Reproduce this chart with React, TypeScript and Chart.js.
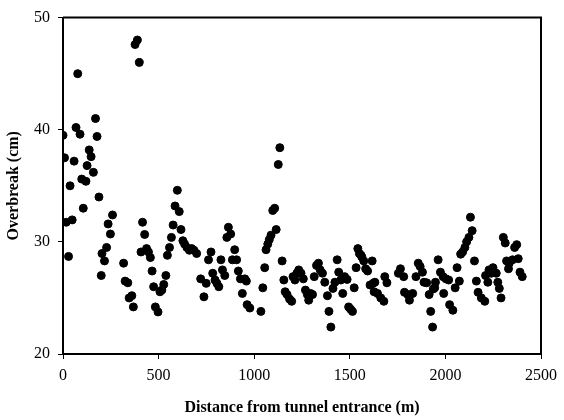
import React, { useEffect, useRef } from "react";
import { Chart, registerables } from "chart.js";

Chart.register(...registerables);

const distances: number[] = [
  0, 8, 17, 29, 37, 48, 58, 68, 77, 89, 98, 106, 120, 126, 137, 147, 159, 170, 178, 188,
  200, 204, 217, 228, 236, 248, 259, 317, 325, 339, 346, 360, 368, 377, 389, 399,
  408, 416, 427, 437, 447, 457, 466, 474, 483, 497, 507, 517, 527, 538, 546, 557, 567, 576, 586, 598,
  608, 617, 627, 636, 648, 661, 673, 685, 699, 720, 737, 749, 761, 774, 783, 795, 805, 815, 826, 834,
  846, 857, 865, 877, 886, 898, 908, 917, 928, 938, 951, 959, 963, 977, 1035, 1045, 1055, 1062, 1071,
  1079, 1088, 1097, 1107, 1115, 1126, 1134, 1146, 1155, 1162, 1172, 1185, 1196, 1203, 1213, 1223, 1233,
  1245, 1257, 1268, 1278, 1285, 1295, 1305, 1314, 1326, 1336, 1345, 1357, 1369, 1383, 1391, 1401, 1412,
  1422, 1434, 1442, 1453, 1463, 1473, 1486, 1494, 1504, 1514, 1523, 1533, 1542, 1550, 1559, 1563, 1573,
  1583, 1593, 1606, 1617, 1622, 1627, 1631, 1645, 1662, 1678, 1683, 1694, 1754, 1765, 1782, 1786, 1803,
  1812, 1829, 1846, 1858, 1868, 1880, 1888, 1902, 1915, 1923, 1933, 1937, 1944, 1948, 1962, 1974, 1988,
  1991, 2003, 2017, 2022, 2039, 2051, 2061, 2073, 2080, 2090, 2102, 2111, 2123, 2131, 2140, 2152, 2162,
  2171, 2188, 2206, 2210, 2222, 2228, 2240, 2249, 2266, 2274, 2282, 2291, 2303, 2313, 2320, 2330, 2334,
  2351, 2362, 2373, 2381, 2390, 2402,
];

const overbreak: number[] = [
  39.5, 37.5, 31.75, 28.7, 35.0, 31.96, 37.2, 40.2, 45.0, 39.6, 35.6, 33.0, 35.4, 36.8, 38.2, 37.6, 36.2, 41.0, 39.4, 34.0,
  27.0, 28.96, 28.3, 29.5, 31.6, 30.7, 32.4, 28.1, 26.5, 26.35, 25.0, 25.2, 24.2, 47.6, 48.0, 46.0,
  29.1, 31.75, 30.66, 29.4, 29.1, 28.6, 27.4, 26.0, 24.2, 23.75, 25.55, 25.7, 26.2, 27.0, 28.8, 29.5, 30.4, 31.5, 33.2, 34.6,
  32.7, 31.1, 30.1, 29.8, 29.5, 29.25, 29.4, 29.25, 28.96, 26.7, 25.1, 26.3, 28.4, 29.1, 27.2, 26.6, 26.3, 26.0, 28.4, 27.5,
  27.0, 30.4, 31.3, 30.7, 28.4, 29.3, 28.4, 27.4, 26.7, 25.4, 26.7, 26.5, 24.4, 24.1, 23.8, 25.9, 27.7, 29.3, 29.8,
  30.2, 30.6, 32.8, 33.0, 31.1, 36.9, 38.4, 28.3, 26.6, 25.55, 25.3, 24.9, 24.7, 26.9, 26.6, 27.2, 27.5,
  27.2, 26.7, 25.7, 25.3, 24.8, 25.4, 25.3, 26.9, 27.9, 28.1, 27.5, 27.2, 26.4, 25.2, 23.8, 22.4, 25.85,
  26.4, 28.4, 27.3, 26.6, 25.4, 26.9, 26.65, 24.2, 24.0, 23.8, 25.9, 27.7, 29.4, 28.96, 28.8, 28.65, 28.3,
  27.6, 27.4, 26.15, 28.3, 26.3, 25.55, 26.4, 25.4, 25.0, 24.7, 26.9, 26.35, 27.2, 27.6, 26.9, 25.5, 25.3,
  24.8, 25.4, 26.9, 28.1, 27.8, 27.3, 26.4, 26.35, 25.3, 23.8, 22.4, 25.8, 25.9, 26.4, 28.4, 27.3, 26.9,
  25.4, 26.7, 26.6, 24.4, 23.9, 25.9, 27.7, 26.5, 28.9, 29.1, 29.5, 30.0, 30.4, 32.2, 31.0, 28.3, 26.5,
  25.5, 25.0, 24.7, 27.0, 26.4, 27.5, 27.2, 27.7, 27.2, 26.4, 25.85, 25.0, 30.4, 29.9, 28.3, 27.6, 28.1,
  28.4, 29.5, 29.75, 28.5, 27.3, 26.9,
];

const xTickValues: number[] = [0, 500, 1000, 1500, 2000, 2500];
const yTickValues: number[] = [20, 30, 40, 50];

const framePlugin = {
  id: "frame",
  afterDraw(chart: any) {
    const { ctx, chartArea } = chart;
    ctx.save();
    ctx.strokeStyle = "#000";
    ctx.lineWidth = 2;
    ctx.beginPath();
    ctx.moveTo(chartArea.left, chartArea.top);
    ctx.lineTo(chartArea.right, chartArea.top);
    ctx.lineTo(chartArea.right, chartArea.bottom);
    ctx.stroke();
    ctx.restore();
  },
};

export default function App() {
  const ref = useRef<HTMLCanvasElement | null>(null);

  useEffect(() => {
    document.body.style.margin = "0";
    if (!ref.current) return;
    const points = distances.map((d, i) => ({ x: d, y: overbreak[i] }));
    const tickFont = { family: "'Liberation Serif', 'Times New Roman', serif", size: 16 };
    const titleFont = { family: "'Liberation Serif', 'Times New Roman', serif", size: 16, weight: "bold" as const };
    const chart = new Chart(ref.current, {
      type: "scatter",
      data: {
        datasets: [
          {
            data: points,
            backgroundColor: "#000",
            borderColor: "#000",
            pointRadius: 4,
            borderWidth: 1,
          },
        ],
      },
      options: {
        animation: false,
        responsive: false,
        layout: { padding: { top: 16, right: 17, left: 0, bottom: 0 } },
        plugins: { legend: { display: false }, tooltip: { enabled: false } },
        scales: {
          x: {
            type: "linear",
            min: 0,
            max: 2500,
            afterFit: (s: any) => {
              s.height = 66;
            },
            afterBuildTicks: (s: any) => {
              s.ticks = xTickValues.map((v) => ({ value: v }));
            },
            ticks: {
              color: "#000",
              font: tickFont,
              padding: 7,
              maxRotation: 0,
              callback: (v: any) => String(v),
            },
            grid: { drawOnChartArea: false, drawTicks: true, tickLength: 5, color: "#000", tickWidth: 1 },
            border: { display: true, color: "#000", width: 2 },
            title: {
              display: true,
              text: "Distance from tunnel entrance (m)",
              color: "#000",
              font: titleFont,
              padding: { top: 0, bottom: 3 },
            },
          },
          y: {
            type: "linear",
            min: 20,
            max: 50,
            afterFit: (s: any) => {
              s.width = 63;
            },
            afterBuildTicks: (s: any) => {
              s.ticks = yTickValues.map((v) => ({ value: v }));
            },
            ticks: { color: "#000", font: tickFont, padding: 8, callback: (v: any) => String(v) },
            grid: { drawOnChartArea: false, drawTicks: true, tickLength: 5, color: "#000", tickWidth: 1 },
            border: { display: true, color: "#000", width: 2 },
            title: {
              display: true,
              text: "Overbreak (cm)",
              color: "#000",
              font: titleFont,
              padding: { top: 4, bottom: 0 },
            },
          },
        },
      },
      plugins: [framePlugin],
    });
    return () => chart.destroy();
  }, []);

  return (
    <div style={{ position: "fixed", left: 0, top: 0, width: 564, height: 420, background: "#fff" }}>
      <canvas ref={ref} width={564} height={420} />
    </div>
  );
}
